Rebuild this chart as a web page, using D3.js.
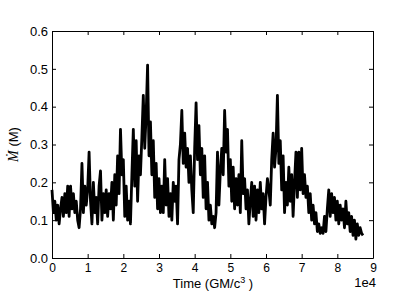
<!DOCTYPE html>
<html>
<head>
    <script src="https://d3js.org/d3.v7.min.js"></script>
    <style>
        body { margin: 0; background: #fff; }
        text { font-family: "Liberation Sans", Arial, sans-serif; }
    </style>
</head>
<body>
    <svg id="svg-container"></svg>
    <script>
        // sampling of the simulation output (time units GM/c^3)
        const sampleStep = 400;
        // accretion rate, in units of M
        const mdot = [
            0.18, 0.12, 0.15, 0.10, 0.14,
            0.09, 0.13, 0.16, 0.11, 0.17,
            0.12, 0.19, 0.11, 0.19, 0.13,
            0.17, 0.12, 0.15, 0.10, 0.08,
            0.13, 0.25, 0.12, 0.19, 0.14,
            0.18, 0.28, 0.15, 0.09, 0.20,
            0.12, 0.16, 0.09, 0.19, 0.23,
            0.10, 0.17, 0.12, 0.18, 0.11,
            0.17, 0.13, 0.20, 0.10, 0.22,
            0.14, 0.27, 0.17, 0.34, 0.22,
            0.26, 0.11, 0.19, 0.10, 0.15,
            0.09, 0.22, 0.34, 0.19, 0.31,
            0.15, 0.27, 0.22, 0.32, 0.43,
            0.29, 0.38, 0.51, 0.27, 0.36,
            0.22, 0.31, 0.16, 0.25, 0.13,
            0.21, 0.12, 0.19, 0.12, 0.26,
            0.14, 0.21, 0.11, 0.17, 0.10,
            0.20, 0.15, 0.19, 0.09, 0.26,
            0.30, 0.39, 0.25, 0.33, 0.24,
            0.29, 0.20, 0.27, 0.18, 0.12,
            0.29, 0.41, 0.26, 0.35, 0.22,
            0.29, 0.16, 0.27, 0.13, 0.20,
            0.10, 0.14, 0.09, 0.11, 0.08,
            0.12, 0.28, 0.14, 0.23, 0.29,
            0.22, 0.39, 0.28, 0.34, 0.19,
            0.26, 0.15, 0.24, 0.13, 0.21,
            0.14, 0.22, 0.12, 0.31, 0.17,
            0.21, 0.13, 0.18, 0.09, 0.15,
            0.20, 0.11, 0.19, 0.10, 0.18,
            0.12, 0.20, 0.13, 0.17, 0.09,
            0.16, 0.21, 0.18, 0.14, 0.26,
            0.33, 0.24, 0.29, 0.43, 0.25,
            0.31, 0.18, 0.27, 0.12, 0.20,
            0.14, 0.24, 0.15, 0.22, 0.11,
            0.20, 0.28, 0.16, 0.28, 0.18,
            0.29, 0.17, 0.22, 0.16, 0.19,
            0.12, 0.17, 0.10, 0.14, 0.09,
            0.12, 0.07, 0.09, 0.065, 0.08,
            0.065, 0.11, 0.07, 0.13, 0.18,
            0.11, 0.17, 0.12, 0.16, 0.10,
            0.15, 0.09, 0.14, 0.10, 0.13,
            0.08, 0.15, 0.09, 0.12, 0.07,
            0.11, 0.06, 0.10, 0.05, 0.09,
            0.06, 0.08, 0.065, 0.06
        ];
        const xTicks = [0, 1e4, 2e4, 3e4, 4e4, 5e4, 6e4, 7e4, 8e4, 9e4];
        const yTicks = [0, 0.1, 0.2, 0.3, 0.4, 0.5, 0.6];

        config = {
            svgWidth: 415,
            svgHeight: 304,
            left: 52,
            right: 373,
            top: 31,
            bottom: 258,
        };

        let svg = d3.select("#svg-container")
            .attr("width", config.svgWidth)
            .attr("height", config.svgHeight);

        let x = d3.scaleLinear().domain([0, 9e4]).range([config.left, config.right]);
        let y = d3.scaleLinear().domain([0, 0.6]).range([config.bottom, config.top]);

        // the curve
        let line = d3.line()
            .x((d, i) => x(i * sampleStep))
            .y(d => y(d));

        svg.append("path")
            .datum(mdot)
            .attr("fill", "none")
            .attr("stroke", "#000")
            .attr("stroke-width", 2.8)
            .attr("stroke-linejoin", "round")
            .attr("d", line);

        // axes, matplotlib style: inward ticks on all four sides
        const fmtX = d => d3.format("d")(d / 1e4);
        const fmtY = d3.format(".1f");

        let bottomAxis = svg.append("g")
            .attr("transform", `translate(0,${config.bottom})`)
            .call(d3.axisBottom(x).tickValues(xTicks).tickFormat(fmtX).tickSizeInner(-4).tickSizeOuter(0).tickPadding(5));
        let topAxis = svg.append("g")
            .attr("transform", `translate(0,${config.top})`)
            .call(d3.axisTop(x).tickValues(xTicks).tickFormat("").tickSizeInner(-4).tickSizeOuter(0));
        let leftAxis = svg.append("g")
            .attr("transform", `translate(${config.left},0)`)
            .call(d3.axisLeft(y).tickValues(yTicks).tickFormat(fmtY).tickSizeInner(-4).tickSizeOuter(0).tickPadding(4));
        let rightAxis = svg.append("g")
            .attr("transform", `translate(${config.right},0)`)
            .call(d3.axisRight(y).tickValues(yTicks).tickFormat("").tickSizeInner(-4).tickSizeOuter(0));

        [bottomAxis, topAxis, leftAxis, rightAxis].forEach(g => {
            g.select(".domain").attr("stroke", "#000").attr("stroke-width", 1);
            g.selectAll(".tick line").attr("stroke", "#000");
            g.selectAll("text").attr("font-size", 13).attr("fill", "#000")
                .attr("font-family", "'Liberation Sans', Arial, sans-serif");
        });
        bottomAxis.selectAll("text").attr("font-size", 12);

        // labels
        svg.append("text")
            .attr("x", 213)
            .attr("y", 288)
            .attr("text-anchor", "middle")
            .attr("font-size", 13)
            .call(t => {
                t.append("tspan").text("Time (GM/c");
                t.append("tspan").attr("font-size", 9).attr("dy", -5).text("3");
                t.append("tspan").attr("dy", 5).text(" )");
            });

        svg.append("text")
            .attr("x", config.right + 3)
            .attr("y", 286.5)
            .attr("text-anchor", "end")
            .attr("font-size", 13)
            .text("1e4");

        svg.append("text")
            .attr("transform", `translate(18,${(config.top + config.bottom) / 2}) rotate(-90)`)
            .attr("text-anchor", "middle")
            .attr("font-size", 13)
            .call(t => {
                t.append("tspan")
                    .attr("font-family", "'Liberation Serif', 'DejaVu Serif', serif")
                    .attr("font-style", "italic")
                    .attr("font-size", 14)
                    .text("Ṁ");
                t.append("tspan").text("  (M)");
            });
    </script>
</body>
</html>
